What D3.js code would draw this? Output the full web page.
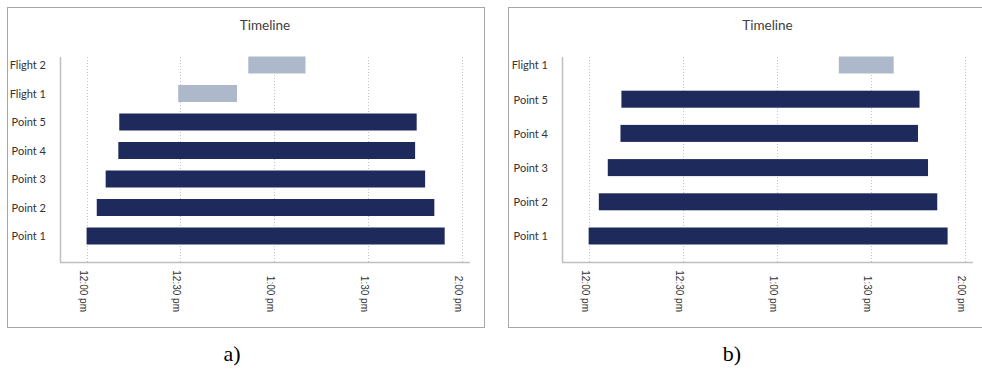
<!DOCTYPE html>
<html>
<head>
<meta charset="utf-8">
<script src="https://cdn.jsdelivr.net/npm/d3@7"></script>
<style>
  html, body { margin: 0; padding: 0; background: #ffffff; }
  svg { display: block; }
</style>
</head>
<body>
<svg id="chart" width="982" height="370"></svg>
<script>
// Shared activity windows for the five survey points (24h clock)
const pointNames = ["Point 1", "Point 2", "Point 3", "Point 4", "Point 5"];
const pointStart = ["12:00:00", "12:03:15", "12:06:06", "12:10:09", "12:10:27"];
const pointEnd   = ["13:54:30", "13:51:12", "13:48:15", "13:45:03", "13:45:33"];

// Flights in scenario a)
const flightNamesA = ["Flight 1", "Flight 2"];
const flightStartA = ["12:29:18", "12:51:42"];
const flightEndA   = ["12:48:06", "13:10:00"];

// Flight in scenario b)
const flightNamesB = ["Flight 1"];
const flightStartB = ["13:19:48"];
const flightEndB   = ["13:37:18"];

// Time axis
const tickTimes  = ["12:00:00", "12:30:00", "13:00:00", "13:30:00", "14:00:00"];
const tickLabels = ["12:00 pm", "12:30 pm", "1:00 pm", "1:30 pm", "2:00 pm"];
const axisBounds = ["11:51:30", "14:02:36"];

const chartTitle = "Timeline";
const panelTags = ["a)", "b)"];

const parseTime = d3.timeParse("%H:%M:%S");
const POINT_COLOR = "#1f2a5c";
const FLIGHT_COLOR = "#adb9ca";

function buildRows(flightNames, flightStart, flightEnd) {
  const rows = pointNames.map((name, i) => ({
    name, start: parseTime(pointStart[i]), end: parseTime(pointEnd[i]), kind: "point"
  }));
  flightNames.forEach((name, i) => rows.push({
    name, start: parseTime(flightStart[i]), end: parseTime(flightEnd[i]), kind: "flight"
  }));
  return rows;
}

const panels = [
  { tag: panelTags[0], frame: { x: 7, y: 7, w: 477, h: 320 },
    plot: { left: 60, right: 470, top: 57, bottom: 262 },
    labelRight: 46, tagX: 232, rows: buildRows(flightNamesA, flightStartA, flightEndA) },
  { tag: panelTags[1], frame: { x: 508, y: 7, w: 490, h: 320 },
    plot: { left: 562, right: 973, top: 57, bottom: 262 },
    labelRight: 548, tagX: 732, rows: buildRows(flightNamesB, flightStartB, flightEndB) }
];

const svg = d3.select("#chart");

panels.forEach(p => {
  const g = svg.append("g");

  // chart frame
  g.append("rect")
    .attr("x", p.frame.x + 0.5).attr("y", p.frame.y + 0.5)
    .attr("width", p.frame.w).attr("height", p.frame.h)
    .attr("fill", "#ffffff").attr("stroke", "#a6a6a6").attr("stroke-width", 1);

  const x = d3.scaleTime()
    .domain(axisBounds.map(parseTime))
    .range([p.plot.left, p.plot.right]);

  const y = d3.scalePoint()
    .domain(p.rows.map(d => d.name))
    .range([236, 65]);

  const ticks = tickTimes.map(parseTime);

  // title
  g.append("text")
    .attr("x", (p.plot.left + p.plot.right) / 2)
    .attr("y", 30)
    .attr("text-anchor", "middle")
    .attr("font-family", "Lato, 'Open Sans', sans-serif")
    .attr("font-size", 13.5)
    .attr("fill", "#404040")
    .text(chartTitle);

  // dotted vertical gridlines
  g.append("g").selectAll("line")
    .data(ticks)
    .join("line")
    .attr("x1", d => Math.round(x(d)) + 0.5).attr("x2", d => Math.round(x(d)) + 0.5)
    .attr("y1", p.plot.top).attr("y2", p.plot.bottom)
    .attr("stroke", "#c4c4c4").attr("stroke-width", 1)
    .attr("stroke-dasharray", "1,2");

  // bars
  const barH = 17;
  g.append("g").selectAll("rect")
    .data(p.rows)
    .join("rect")
    .attr("x", d => x(d.start))
    .attr("y", d => y(d.name) - barH / 2)
    .attr("width", d => x(d.end) - x(d.start))
    .attr("height", barH)
    .attr("fill", d => d.kind === "point" ? POINT_COLOR : FLIGHT_COLOR);

  // category axis
  const yAxis = g.append("g")
    .attr("transform", `translate(${p.plot.left},0)`)
    .call(d3.axisLeft(y).tickSize(0).tickPadding(0));
  yAxis.select(".domain")
    .attr("d", `M0.5,${p.plot.top}V${p.plot.bottom}`)
    .attr("stroke", "#bfbfbf").attr("stroke-width", 1.5);
  yAxis.selectAll(".tick text")
    .attr("x", p.labelRight - p.plot.left)
    .attr("dy", "0.35em")
    .attr("text-anchor", "end")
    .attr("font-family", "Lato, 'Open Sans', sans-serif")
    .attr("font-size", 11)
    .attr("fill", "#333333");

  // time axis
  const xAxis = g.append("g")
    .attr("transform", `translate(0,${p.plot.bottom})`)
    .call(d3.axisBottom(x).tickValues(ticks)
      .tickFormat((d, i) => tickLabels[i]).tickSize(0));
  xAxis.select(".domain")
    .attr("d", `M${p.plot.left},0.5H${p.plot.right}`)
    .attr("stroke", "#bfbfbf").attr("stroke-width", 1.5);
  xAxis.selectAll(".tick text")
    .attr("transform", "translate(0,50) rotate(90)")
    .attr("x", 0).attr("y", 0)
    .attr("dy", "0.75em")
    .attr("text-anchor", "end")
    .attr("font-family", "'Liberation Sans', Arial, sans-serif")
    .attr("font-size", 10)
    .attr("fill", "#333333");

  // panel tag
  svg.append("text")
    .attr("x", p.tagX)
    .attr("y", 361)
    .attr("text-anchor", "middle")
    .attr("font-family", "'Liberation Serif', 'Times New Roman', serif")
    .attr("font-size", 22)
    .attr("fill", "#000000")
    .text(p.tag);
});
</script>
</body>
</html>
